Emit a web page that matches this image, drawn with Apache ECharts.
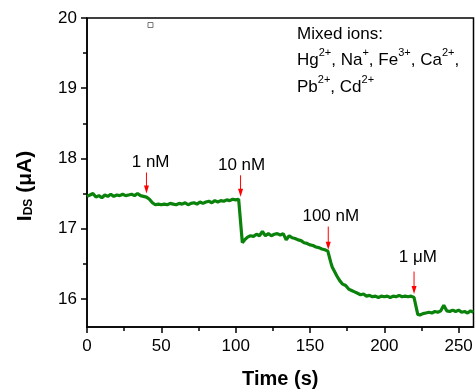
<!DOCTYPE html>
<html>
<head>
<meta charset="utf-8">
<script src="https://cdn.jsdelivr.net/npm/echarts@6/dist/echarts.min.js"></script>
<style>
html,body{margin:0;padding:0;background:#fff;}
#chart{width:475px;height:390px;}
</style>
</head>
<body>
<div id="chart"></div>
<script>
// ---- data ----
var times = [0,2,4,6,8,10,12,14,16,18,20,22,24,26,28,30,32,34,36,38,40,42,44,46,48,50,52,54,56,58,60,62,64,66,68,70,72,74,76,78,80,82,84,86,88,90,92,94,96,98,100,102,103,104.5,106,108,110,112,114,116,118,120,122,124,126,128,130,132,134,136,138,140,142,144,146,148,150,152,154,156,158,160,162,163,164,165,166,168,170,172,174,176,178,180,182,184,186,188,190,192,194,196,198,200,202,204,206,208,210,212,214,216,218,220,221,222.5,224,226,228,230,232,234,236,238,240,241,242,244,246,248,250,252,254,256,258,260];
var current = [17.46,17.48,17.50,17.45,17.47,17.44,17.48,17.46,17.49,17.46,17.48,17.47,17.49,17.47,17.48,17.49,17.47,17.50,17.47,17.46,17.45,17.42,17.37,17.34,17.35,17.34,17.35,17.34,17.36,17.35,17.34,17.36,17.35,17.37,17.34,17.36,17.37,17.35,17.38,17.36,17.38,17.39,17.37,17.40,17.38,17.40,17.39,17.41,17.40,17.42,17.41,17.42,17.40,16.80,16.84,16.88,16.90,16.89,16.92,16.90,16.96,16.90,16.93,16.90,16.92,16.93,16.91,16.93,16.84,16.90,16.87,16.86,16.84,16.83,16.80,16.79,16.77,16.76,16.74,16.73,16.71,16.70,16.68,16.66,16.52,16.45,16.41,16.33,16.26,16.21,16.19,16.14,16.12,16.10,16.08,16.06,16.07,16.04,16.05,16.03,16.04,16.02,16.04,16.03,16.04,16.02,16.04,16.03,16.05,16.03,16.04,16.03,16.04,16.02,16.00,15.78,15.77,15.79,15.80,15.81,15.80,15.82,15.81,15.83,15.91,15.87,15.83,15.82,15.84,15.82,15.84,15.81,15.82,15.80,15.83,15.81];

var xMajorTicks = [0,50,100,150,200,250];
var xMinorTicks = [25,75,125,175,225];
var yMajorTicks = [16,17,18,19,20];
var yMinorTicks = [16.5,17.5,18.5,19.5];

var annotLabels = ['1 nM','10 nM','100 nM','1 \u03bcM'];
var arrowTime   = [40,103.3,162.3,220];
var arrowTop    = [17.80,17.76,17.03,16.39];
var arrowTip    = [17.50,17.455,16.70,16.07];
var labelTime   = [42.8,104,164,222.6];
var labelY      = [17.94,17.90,17.17,16.59];

var markerTime = [42.7];
var markerVal  = [19.90];

var FONT = 'Liberation Sans, Arial, sans-serif';

var chart = echarts.init(document.getElementById('chart'), null, {renderer:'canvas'});

var lineData = times.map(function(t,i){return [t,current[i]];});
var annotData = arrowTime.map(function(t,i){return [t,arrowTop[i],arrowTip[i]];});
var markerData = markerTime.map(function(t,i){return [t,markerVal[i]];});

var axisLine = {show:true, lineStyle:{color:'#000', width:1.5}};

var option = {
  backgroundColor:'#fff',
  animation:false,
  grid:{left:87, top:18, right:1.5, bottom:63, outerBoundsMode:'none', containLabel:false, show:true, borderColor:'#000', borderWidth:1.5, backgroundColor:'transparent'},
  xAxis:[{
    type:'value', min:0, max:260,
    axisLine:axisLine,
    axisTick:{show:true, length:6, inside:false, customValues:xMajorTicks, lineStyle:{color:'#000',width:1.5}},
    axisLabel:{show:true, customValues:xMajorTicks, margin:11, color:'#000', fontSize:17, fontFamily:FONT},
    splitLine:{show:false},
    name:'Time (s)', nameLocation:'middle', nameGap:42,
    nameTextStyle:{color:'#000', fontSize:20, fontWeight:'bold', fontFamily:FONT}
  },{
    type:'value', min:0, max:260, position:'bottom',
    axisLine:{show:false},
    axisTick:{show:true, length:4, inside:false, customValues:xMinorTicks, lineStyle:{color:'#000',width:1.5}},
    axisLabel:{show:false},
    splitLine:{show:false}
  }],
  yAxis:[{
    type:'value', min:15.6, max:20,
    axisLine:axisLine,
    axisTick:{show:true, length:6, inside:false, customValues:yMajorTicks, lineStyle:{color:'#000',width:1.5}},
    axisLabel:{show:true, customValues:yMajorTicks, margin:10, color:'#000', fontSize:17, fontFamily:FONT},
    splitLine:{show:false}
  },{
    type:'value', min:15.6, max:20, position:'left',
    axisLine:{show:false},
    axisTick:{show:true, length:4, inside:false, customValues:yMinorTicks, lineStyle:{color:'#000',width:1.5}},
    axisLabel:{show:false},
    splitLine:{show:false}
  }],
  series:[{
    type:'line', data:lineData, xAxisIndex:0, yAxisIndex:0,
    showSymbol:false, symbol:'none',
    lineStyle:{color:'#0b820b', width:3.2},
    z:3
  },{
    type:'scatter', data:markerData, xAxisIndex:0, yAxisIndex:0,
    symbol:'rect', symbolSize:5,
    itemStyle:{color:'#fff', borderColor:'#555', borderWidth:1},
    silent:true
  },{
    type:'custom', data:annotData, xAxisIndex:0, yAxisIndex:0, z:5,
    renderItem:function(params, api){
      var i = params.dataIndex;
      var p1 = api.coord([api.value(0), api.value(1)]);
      var p2 = api.coord([api.value(0), api.value(2)]);
      var pl = api.coord([labelTime[i], labelY[i]]);
      return {type:'group', children:[
        {type:'line', shape:{x1:p1[0], y1:p1[1], x2:p2[0], y2:p2[1]-6}, style:{stroke:'#ff0000', lineWidth:1}},
        {type:'polygon', shape:{points:[[p2[0]-2.5,p2[1]-8],[p2[0]+2.5,p2[1]-8],[p2[0],p2[1]]]}, style:{fill:'#ff0000'}},
        {type:'text', x:pl[0], y:pl[1], style:{text:annotLabels[i], fill:'#000', font:'17px '+FONT, align:'center', verticalAlign:'middle'}}
      ]};
    }
  }],
  graphic:[{
    type:'text', x:25, y:186, rotation:Math.PI/2,
    style:{
      text:'{b|I}{s|DS}{b| (\u03bcA)}',
      align:'center', verticalAlign:'middle',
      rich:{
        b:{fontSize:21, fontWeight:'bold', fontFamily:FONT, fill:'#000', color:'#000'},
        s:{fontSize:12, fontWeight:'bold', fontFamily:FONT, fill:'#000', color:'#000', padding:[8,0,0,0]}
      }
    }
  },{
    type:'text', left:297, top:26,
    style:{text:'Mixed ions:', fill:'#000', font:'17px '+FONT}
  },{
    type:'text', left:297, top:47,
    style:{
      text:'{n|Hg}{u|2+}{n|, Na}{u|+}{n|, Fe}{u|3+}{n|, Ca}{u|2+}{n|,}',
      rich:{
        n:{fontSize:17, fontFamily:FONT, fill:'#000', color:'#000', lineHeight:22, verticalAlign:'bottom'},
        u:{fontSize:11, fontFamily:FONT, fill:'#000', color:'#000', lineHeight:22, verticalAlign:'top'}
      }
    }
  },{
    type:'text', left:297, top:74,
    style:{
      text:'{n|Pb}{u|2+}{n|, Cd}{u|2+}',
      rich:{
        n:{fontSize:17, fontFamily:FONT, fill:'#000', color:'#000', lineHeight:22, verticalAlign:'bottom'},
        u:{fontSize:11, fontFamily:FONT, fill:'#000', color:'#000', lineHeight:22, verticalAlign:'top'}
      }
    }
  }]
};
chart.setOption(option);
</script>
</body>
</html>
